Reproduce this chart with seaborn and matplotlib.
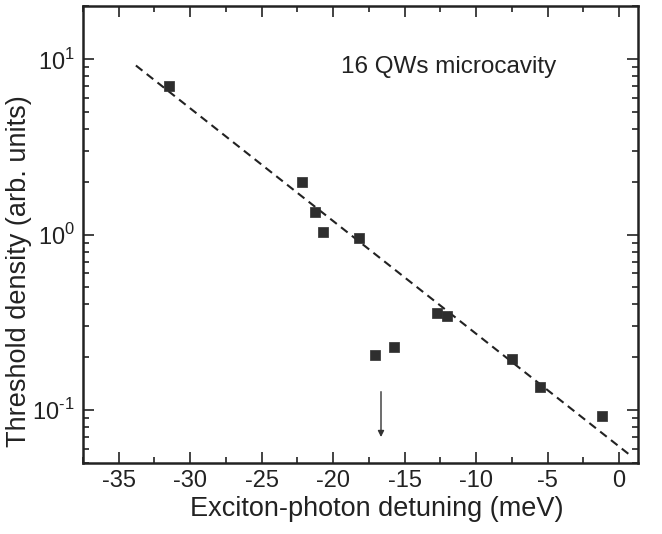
import matplotlib
matplotlib.use("Agg")
import matplotlib.pyplot as plt
import seaborn as sns
import pandas as pd
from matplotlib.ticker import MultipleLocator, LogLocator, NullFormatter

# data
detuning = [-31.5, -22.2, -21.3, -20.7, -18.2, -17.1, -15.75, -12.75, -12.0, -7.45, -5.5, -1.2]
threshold = [7.0, 2.0, 1.34, 1.04, 0.95, 0.206, 0.229, 0.358, 0.344, 0.196, 0.135, 0.092]
fit_x = [-33.8, 0.8]
fit_y = [9.2, 0.055]
arrow_x = -16.65
arrow_y = [0.127, 0.070]
x_ticks = [-35, -30, -25, -20, -15, -10, -5, 0]
y_ticks = [0.1, 1, 10]
y_tick_labels = [r"$10^{\text{-}1}$", r"$10^{0}$", r"$10^{1}$"]
annotation = "16 QWs microcavity"

sns.set_style("ticks")
plt.rcParams['font.family'] = ['Liberation Sans', 'DejaVu Sans']
plt.rcParams['mathtext.fontset'] = 'custom'
plt.rcParams['mathtext.rm'] = 'Liberation Sans'
plt.rcParams['axes.unicode_minus'] = False

fig = plt.figure(figsize=(6.62, 5.34), dpi=100)
ax = fig.add_axes([0.1254, 0.133, 0.8383, 0.8558])

df = pd.DataFrame({"x": detuning, "y": threshold})
fit_df = pd.DataFrame({"x": fit_x, "y": fit_y})

sns.lineplot(data=fit_df, x="x", y="y", ax=ax, color="#222222", lw=1.5,
             linestyle=(0, (4, 2.6)))
sns.scatterplot(data=df, x="x", y="y", ax=ax, marker="s", s=62, color="#2e2e2e",
                edgecolor="#2e2e2e", linewidth=0.5, zorder=3)

ax.set_yscale("log")
ax.set_xlim(-37.5, 1.33)
ax.set_ylim(0.0498, 20.1)

ax.annotate("", xy=(arrow_x, arrow_y[1]), xytext=(arrow_x, arrow_y[0]),
            arrowprops=dict(arrowstyle="-|>", color="#333333", lw=1.0,
                            mutation_scale=9, shrinkA=0, shrinkB=0))

ax.text(-11.9, 9.0, annotation, fontsize=17.5, ha="center", va="center", color="#222222")

ax.set_xticks(x_ticks)
ax.set_xticklabels([str(v) for v in x_ticks])
ax.xaxis.set_minor_locator(MultipleLocator(2.5))
ax.set_yticks(y_ticks)
ax.set_yticklabels(y_tick_labels)
ax.yaxis.set_minor_locator(LogLocator(base=10, subs=range(2, 10), numticks=20))
ax.yaxis.set_minor_formatter(NullFormatter())

ax.tick_params(which="both", direction="in", top=True, right=True, width=1.2,
               colors="#222222", labelsize=17)
ax.tick_params(axis="x", pad=5)
ax.tick_params(axis="y", pad=6)
ax.tick_params(which="major", length=8)
ax.tick_params(which="minor", length=4)
for s in ax.spines.values():
    s.set_linewidth(1.8)
    s.set_color("#222222")

ax.set_xlabel("Exciton-photon detuning (meV)", fontsize=19.5, color="#222222")
ax.set_ylabel("Threshold density (arb. units)", fontsize=19.5, color="#222222")
ax.xaxis.set_label_coords(0.53, -0.072)
ax.yaxis.set_label_coords(-0.092, 0.42)

fig.savefig("out.png", dpi=100)
